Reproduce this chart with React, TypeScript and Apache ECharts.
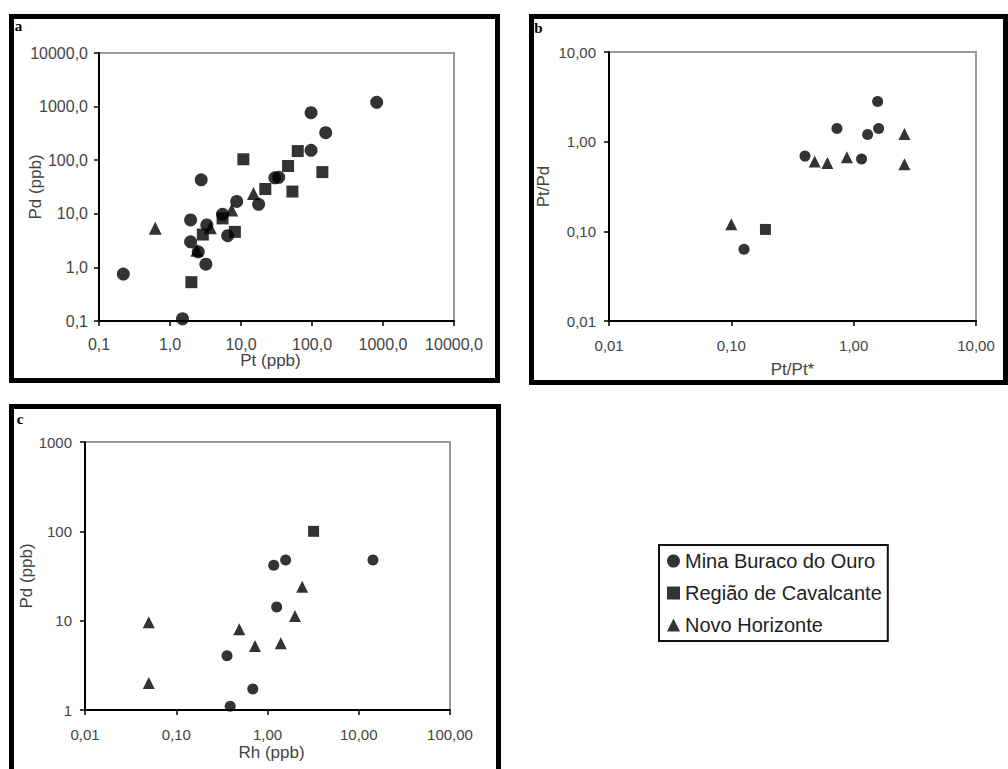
import React, { useEffect, useRef } from "react";
import * as echarts from "echarts";

const seriesNames = ["Mina Buraco do Ouro", "Região de Cavalcante", "Novo Horizonte"];
const symbols = ["circle", "rect", "triangle"];

// Panel a: Pt (ppb) vs Pd (ppb)
const aMina: [number, number][] = [
  [0.22, 0.75], [1.5, 0.11], [1.95, 7.7], [1.95, 3.0], [2.5, 1.95], [2.75, 43],
  [3.2, 1.15], [3.3, 6.2], [5.5, 9.8], [6.5, 3.9], [8.7, 17], [17.7, 15],
  [30, 47], [34, 48], [97, 770], [97, 153], [156, 326], [815, 1200],
];
const aRegiao: [number, number][] = [
  [2.0, 0.53], [2.9, 4.1], [5.5, 8.2], [8.2, 4.6], [10.8, 104], [22, 29],
  [46, 78], [53, 26], [63, 148], [140, 60],
];
const aNovo: [number, number][] = [
  [0.62, 5.4], [2.4, 2.1], [3.7, 5.5], [7.4, 11.8], [15, 24],
];

// Panel b: Pt/Pt* vs Pt/Pd
const bMina: [number, number][] = [
  [0.127, 0.063], [0.4, 0.69], [0.73, 1.4], [1.16, 0.64], [1.3, 1.2], [1.57, 2.8], [1.6, 1.4],
];
const bRegiao: [number, number][] = [[0.19, 0.105]];
const bNovo: [number, number][] = [
  [0.1, 0.12], [0.48, 0.6], [0.61, 0.58], [0.88, 0.67], [2.6, 1.22], [2.6, 0.56],
];

// Panel c: Rh (ppb) vs Pd (ppb)
const cMina: [number, number][] = [
  [0.36, 4.05], [0.39, 1.1], [0.69, 1.72], [1.17, 41.6], [1.58, 47.7], [1.26, 14.2], [14.3, 47.7],
];
const cRegiao: [number, number][] = [[3.2, 100]];
const cNovo: [number, number][] = [
  [0.05, 9.6], [0.05, 2.0], [0.49, 8.0], [0.73, 5.2], [1.4, 5.6], [2.0, 11.3], [2.4, 24],
];

const FONT = "'Liberation Sans', Arial, sans-serif";

const fmt = (d: number) => (v: number) => Number(v).toFixed(d).replace(".", ",");

function logAxis(
  gridIndex: number, min: number, max: number, formatter: (v: number) => string,
  name: string, nameGap: number, vertical: boolean, margin: number, labelSize: number,
  namePadding: number[] = [0, 0, 0, 0]
) {
  return {
    type: "log",
    logBase: 10,
    gridIndex,
    min,
    max,
    name,
    nameLocation: "middle",
    nameGap,
    nameMoveOverlap: false,
    nameRotate: vertical ? 90 : 0,
    nameTextStyle: { fontFamily: FONT, fontSize: 17, color: "#444", padding: namePadding },
    axisLine: { show: true, lineStyle: { color: "#000", width: 2 } },
    axisTick: { show: true, inside: false, length: 5, lineStyle: { color: "#000", width: 1.5 } },
    axisLabel: { show: true, formatter, margin, fontFamily: FONT, fontSize: labelSize, color: "#444" },
    splitLine: { show: false },
    minorTick: { show: false },
  };
}

export default function App() {
  const ref = useRef<HTMLDivElement>(null);
  useEffect(() => {
    if (!ref.current) return;
    const chart = echarts.init(ref.current, null, { renderer: "svg" });
    const panels = [
      [aMina, aRegiao, aNovo],
      [bMina, bRegiao, bNovo],
      [cMina, cRegiao, cNovo],
    ];
    const sizes = [
      [13, 12, 13],
      [11, 11, 12],
      [11, 11, 12],
    ];
    const series: any[] = [];
    panels.forEach((groups, gi) => {
      groups.forEach((data, si) => {
        series.push({
          type: "scatter",
          name: seriesNames[si],
          xAxisIndex: gi,
          yAxisIndex: gi,
          symbol: symbols[si],
          symbolSize: sizes[gi][si],
          itemStyle: { color: "#000" },
          data,
        });
      });
    });
    const gridStyle = { show: true, borderColor: "#9a9a9a", borderWidth: 2, backgroundColor: "transparent" };
    const letterFont = "bold 15px 'Liberation Serif', serif";
    const option: any = {
      animation: false,
      backgroundColor: "#fff",
      grid: [
        { left: 99, top: 53, width: 355, height: 268, ...gridStyle },
        { left: 609, top: 52, width: 367, height: 269, ...gridStyle },
        { left: 85, top: 442, width: 365, height: 268, ...gridStyle },
      ],
      xAxis: [
        logAxis(0, 0.1, 10000, fmt(1), "Pt (ppb)", 31, false, 15, 16, [0, 12, 0, 0]),
        logAxis(1, 0.01, 10, fmt(2), "Pt/Pt*", 40, false, 17, 15),
        logAxis(2, 0.01, 100, fmt(2), "Rh (ppb)", 34, false, 17, 15, [0, 0, 0, 8]),
      ],
      yAxis: [
        logAxis(0, 0.1, 10000, fmt(1), "Pd (ppb)", 55, true, 11, 16),
        logAxis(1, 0.01, 10, fmt(2), "Pt/Pd", 57, true, 13, 15),
        logAxis(2, 1, 1000, (v: number) => String(Math.round(v)), "Pd (ppb)", 50, true, 13, 15),
      ],
      legend: {
        data: seriesNames,
        orient: "vertical",
        left: 659,
        top: 545,
        padding: [6, 6, 6, 8],
        itemGap: 12,
        itemWidth: 13,
        itemHeight: 13,
        borderColor: "#111",
        borderWidth: 2,
        backgroundColor: "#fff",
        textStyle: { fontFamily: FONT, fontSize: 20, color: "#222", lineHeight: 20 },
      },
      graphic: [
        { type: "rect", shape: { x: 11.5, y: 16.5, width: 486, height: 364 }, style: { fill: "none", stroke: "#000", lineWidth: 5 }, silent: true },
        { type: "rect", shape: { x: 531.5, y: 16.5, width: 474, height: 366 }, style: { fill: "none", stroke: "#000", lineWidth: 5 }, silent: true },
        { type: "rect", shape: { x: 11.5, y: 406.5, width: 487, height: 380 }, style: { fill: "none", stroke: "#000", lineWidth: 5 }, silent: true },
        { type: "text", x: 18.5, y: 26, style: { text: "a", font: letterFont, fill: "#000", textAlign: "center", textVerticalAlign: "middle", align: "center", verticalAlign: "middle" } },
        { type: "text", x: 538.5, y: 28, style: { text: "b", font: letterFont, fill: "#000", textAlign: "center", textVerticalAlign: "middle", align: "center", verticalAlign: "middle" } },
        { type: "text", x: 20, y: 419, style: { text: "c", font: letterFont, fill: "#000", textAlign: "center", textVerticalAlign: "middle", align: "center", verticalAlign: "middle" } },
      ],
      series,
    };
    chart.setOption(option);
    return () => chart.dispose();
  }, []);
  return (
    <div
      ref={ref}
      style={{ position: "absolute", left: 0, top: 0, width: 1008, height: 769 }}
    />
  );
}
